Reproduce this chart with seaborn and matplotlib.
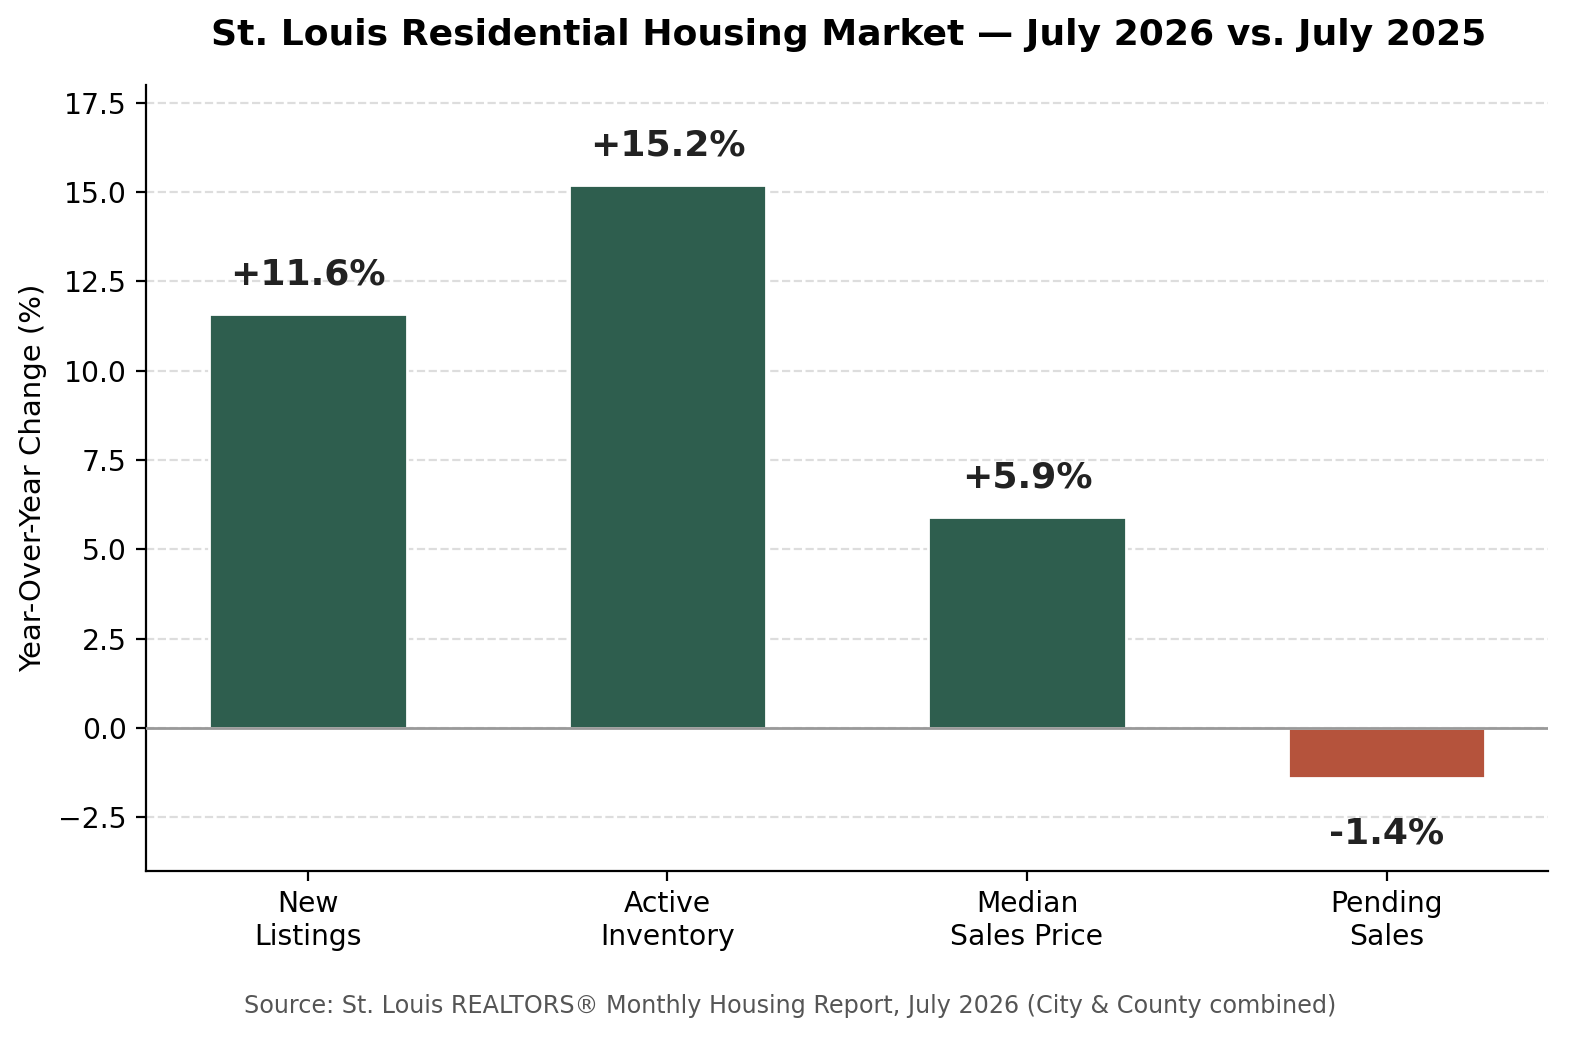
import matplotlib
matplotlib.use("Agg")
import matplotlib.pyplot as plt
import seaborn as sns
import pandas as pd

categories = ["New\nListings", "Active\nInventory", "Median\nSales Price", "Pending\nSales"]
values = [11.6, 15.2, 5.9, -1.4]
labels = ["+11.6%", "+15.2%", "+5.9%", "-1.4%"]

sns.set_style("ticks")
plt.rcParams['font.family'] = ['DejaVu Sans']
plt.rcParams['text.color'] = 'black'
plt.rcParams['axes.labelcolor'] = 'black'
plt.rcParams['xtick.color'] = 'black'
plt.rcParams['ytick.color'] = 'black'
plt.rcParams['axes.edgecolor'] = 'black'

df = pd.DataFrame({"metric": categories, "change": values})
pos_color = "#2E5E4E"
neg_color = "#B5533C"
palette = {c: (pos_color if v >= 0 else neg_color) for c, v in zip(categories, values)}

fig = plt.figure(figsize=(7.9, 5.22), dpi=200)
ax = fig.add_axes([0.0924, 0.1657, 0.8876, 0.7529])

ax.yaxis.grid(True, linestyle="--", color="#dddddd", linewidth=0.8)
ax.set_axisbelow(True)

sns.barplot(data=df, x="metric", y="change", hue="metric", palette=palette,
            width=0.55, saturation=1, legend=False, ax=ax, zorder=3)

ax.axhline(0, color="#999999", linewidth=1.0, zorder=4)

for i, (v, lab) in enumerate(zip(values, labels)):
    if v >= 0:
        ax.text(i, v + 1.1, lab, ha="center", va="center", fontsize=13,
                fontweight="bold", color="#222222")
    else:
        ax.text(i, v - 1.55, lab, ha="center", va="center", fontsize=13,
                fontweight="bold", color="#222222")

ax.set_ylim(-4, 18)
ax.set_xlim(-0.45, 3.45)
ax.set_yticks([-2.5, 0, 2.5, 5, 7.5, 10, 12.5, 15, 17.5])
ax.set_xlabel("")
ax.set_ylabel("Year-Over-Year Change (%)", fontsize=10.5)
ax.tick_params(axis="both", labelsize=10.2)
sns.despine(ax=ax)

fig.suptitle("St. Louis Residential Housing Market \u2014 July 2026 vs. July 2025",
             fontsize=13, fontweight="bold", x=0.537, y=0.983)
fig.text(0.5, 0.03, "Source: St. Louis REALTORS\u00ae Monthly Housing Report, July 2026 (City & County combined)",
         ha="center", fontsize=8.6, color="#555555")

fig.savefig("out.png", dpi=200)
